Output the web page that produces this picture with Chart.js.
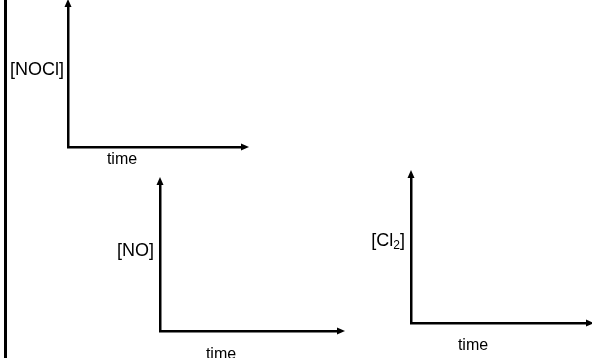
<!DOCTYPE html>
<html>
<head>
<meta charset="utf-8">
<script src="https://cdn.jsdelivr.net/npm/chart.js@4.4.1/dist/chart.umd.min.js"></script>
<style>
  html, body { margin: 0; padding: 0; background: #fff; overflow: hidden; }
  body { width: 592px; height: 358px; position: relative; }
  .panel { position: absolute; }
  #edge { position: absolute; left: 4px; top: 0; width: 3px; height: 358px; background: #000; }
</style>
</head>
<body>
<div id="edge"></div>
<div class="panel" style="left:0;top:0;width:260px;height:175px"><canvas id="noclChart"></canvas></div>
<div class="panel" style="left:90px;top:170px;width:270px;height:188px"><canvas id="noChart"></canvas></div>
<div class="panel" style="left:350px;top:160px;width:242px;height:198px"><canvas id="cl2Chart"></canvas></div>
<script>
// sketch axes: nothing plotted yet, just concentration vs time
const timeLabel = 'time';
const speciesNames = ['[NOCl]', '[NO]', '[Cl2]'];
const noclValues = [];
const noValues = [];
const cl2Values = [];

const AXIS = '#000';
const FONT = '"Liberation Sans", Arial, sans-serif';

// arrow heads on the axis ends + the hand placed labels
const sketchPlugin = {
    id: 'sketch',
    afterDraw(chart, args, opts) {
        const ctx = chart.ctx;
        const x = chart.scales.x, y = chart.scales.y;
        const left = x.left, bottom = y.bottom;
        ctx.save();
        ctx.fillStyle = AXIS;
        // up arrow
        ctx.beginPath();
        ctx.moveTo(left, y.top - 8);
        ctx.lineTo(left - 3.5, y.top);
        ctx.lineTo(left + 3.5, y.top);
        ctx.closePath();
        ctx.fill();
        // right arrow
        ctx.beginPath();
        ctx.moveTo(x.right + 8, bottom);
        ctx.lineTo(x.right, bottom - 3.5);
        ctx.lineTo(x.right, bottom + 3.5);
        ctx.closePath();
        ctx.fill();

        ctx.fillStyle = '#000';
        ctx.font = '18px ' + FONT;
        ctx.textBaseline = 'middle';
        // species label, left of the y axis
        const name = opts.name;
        const ly = bottom - opts.labelRise;
        ctx.textAlign = 'right';
        if (name.endsWith('2]')) {
            const base = name.slice(0, -2);
            const wClose = ctx.measureText(']').width;
            ctx.font = '12px ' + FONT;
            const wSub = ctx.measureText('2').width;
            const xr = left - opts.labelGap;
            ctx.fillText('2', xr - wClose, ly + 5);
            ctx.font = '18px ' + FONT;
            ctx.fillText(']', xr, ly);
            ctx.fillText(base, xr - wClose - wSub, ly);
        } else {
            ctx.fillText(name, left - opts.labelGap, ly);
        }
        // time label below the x axis
        ctx.font = '16px ' + FONT;
        ctx.textAlign = 'center';
        ctx.fillText(timeLabel, left + opts.timeShift, bottom + opts.timeDrop);
        ctx.restore();
    }
};

function makeSketch(id, values, name, padding, labelOpts) {
    const axisBase = {
        min: 0, max: 10,
        grid: { display: false },
        ticks: { display: false },
        border: { display: true, color: AXIS, width: 2.5 }
    };
    return new Chart(document.getElementById(id), {
        type: 'scatter',
        data: { datasets: [{ label: name, data: values }] },
        options: {
            responsive: true,
            maintainAspectRatio: false,
            animation: false,
            layout: { padding: padding },
            plugins: {
                legend: { display: false },
                tooltip: { enabled: false },
                sketch: Object.assign({ name: name }, labelOpts)
            },
            scales: {
                x: Object.assign({}, axisBase, { afterFit(s) { s.height = 0; } }),
                y: Object.assign({}, axisBase, { afterFit(s) { s.width = 0; } })
            }
        },
        plugins: [sketchPlugin]
    });
}

makeSketch('noclChart', noclValues, speciesNames[0],
    { left: 68, top: 7, right: 19, bottom: 28 },
    { labelGap: 4, labelRise: 77, timeShift: 54, timeDrop: 13 });
makeSketch('noChart', noValues, speciesNames[1],
    { left: 70, top: 15, right: 23, bottom: 27 },
    { labelGap: 6, labelRise: 80, timeShift: 61, timeDrop: 24 });
makeSketch('cl2Chart', cl2Values, speciesNames[2],
    { left: 61, top: 18, right: 6, bottom: 35 },
    { labelGap: 6, labelRise: 82, timeShift: 62, timeDrop: 23 });
</script>
</body>
</html>
